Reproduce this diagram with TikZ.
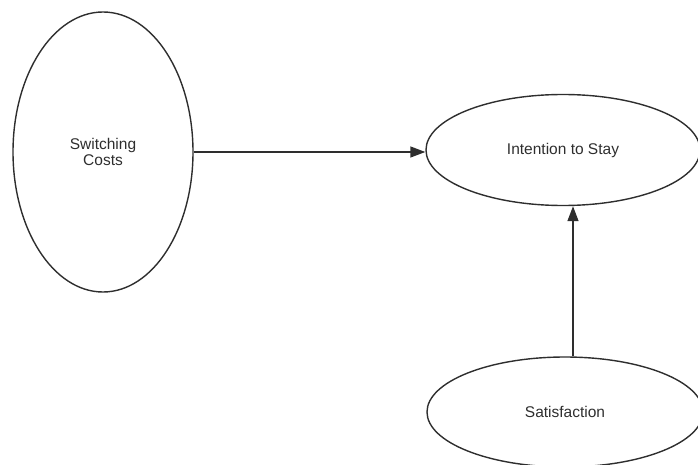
\documentclass[tikz,border=0pt]{standalone}
\usepackage{fontspec}
\setmainfont{Liberation Sans}
\usetikzlibrary{shapes.geometric,arrows.meta}
\definecolor{ink}{HTML}{2E2E2E}
\begin{document}
\begin{tikzpicture}[x=1pt,y=-1pt,
  construct/.style={draw=ink,line width=1.4pt,ellipse,inner sep=0pt,
    text=ink,font=\fontsize{15.5}{16}\selectfont,align=center},
  path/.style={draw=ink,line width=1.4pt,-{Triangle[length=15pt,width=11pt]}}]
  \useasboundingbox (0,0) rectangle (698,465);
  \node[construct,minimum width=180pt,minimum height=280pt] (sc) at (103,152) {Switching\\Costs};
  \node[construct,minimum width=274pt,minimum height=111pt] (its) at (563,150) {Intention to Stay};
  \node[construct,minimum width=276pt,minimum height=110pt] (sat) at (565,412) {Satisfaction};
  \draw[path] (sc.east) -- (sc.east -| its.west);
  \draw[path] ([xshift=8pt]sat.north) -- ([xshift=8pt]sat.north |- its.south);
\end{tikzpicture}
\end{document}
